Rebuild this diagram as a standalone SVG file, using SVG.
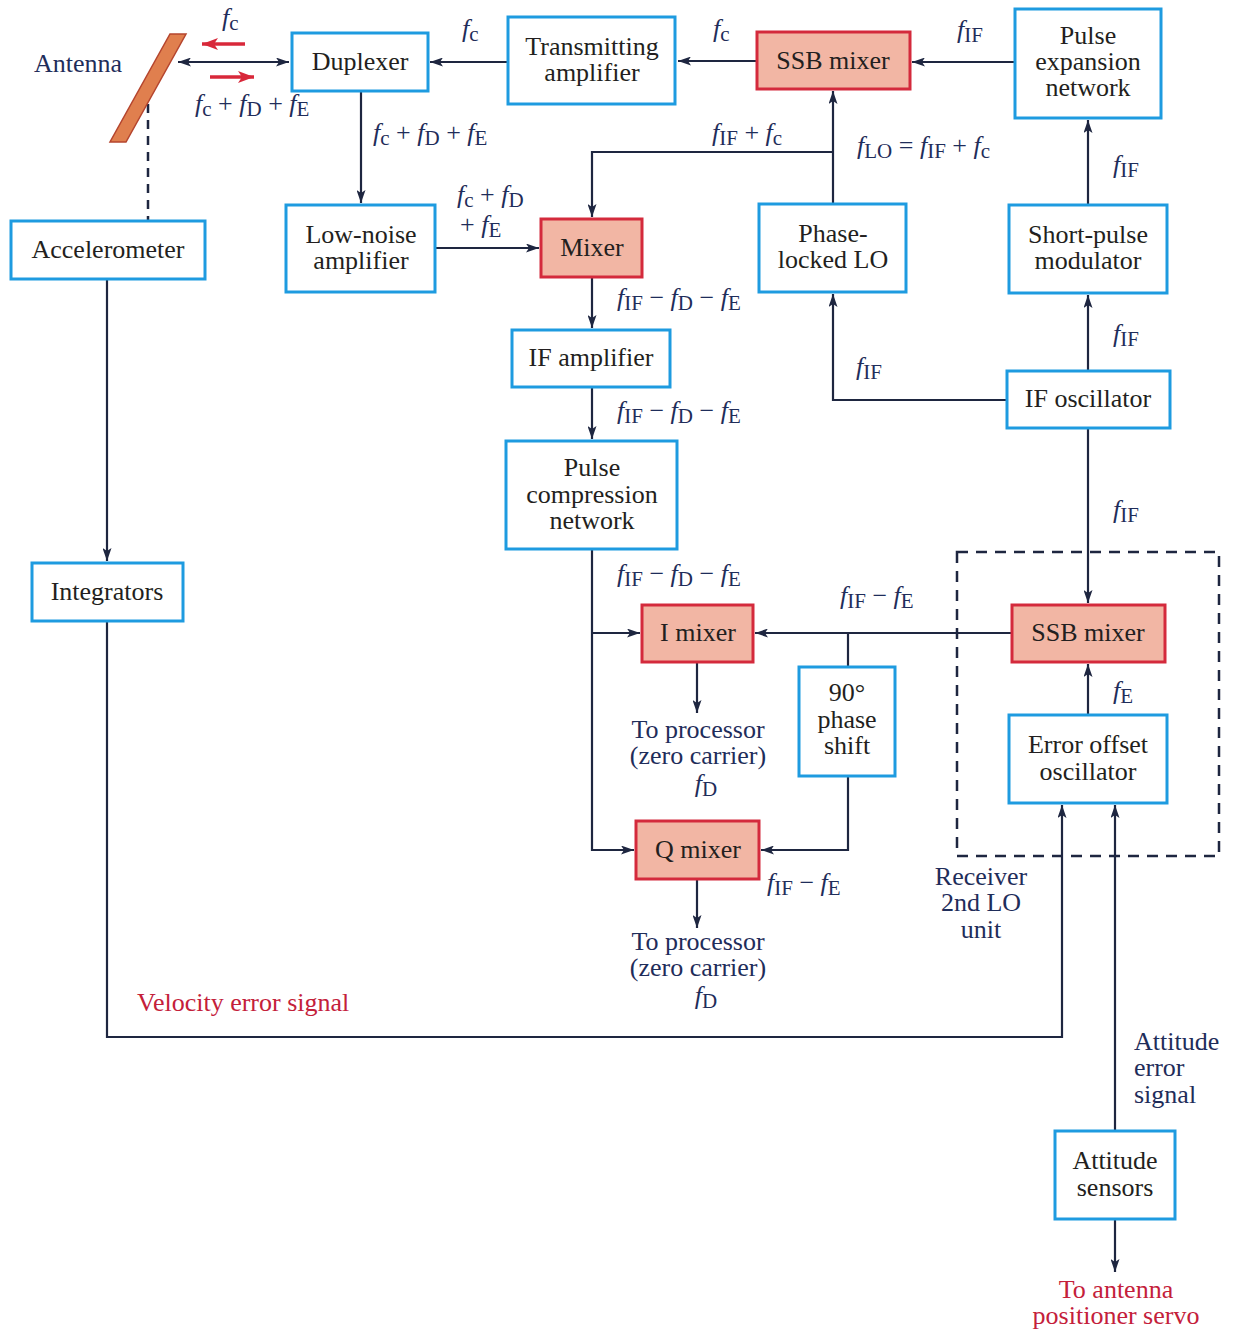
<svg xmlns="http://www.w3.org/2000/svg" width="1234" height="1333" viewBox="0 0 1234 1333">
<defs>
<style>
.b{fill:#fff;stroke:#1e9be0;stroke-width:3}
.m{fill:#f2b6a4;stroke:#d42a3c;stroke-width:3}
.c{fill:none;stroke:#1e2640;stroke-width:2.2}
.t{font-family:"Liberation Serif",serif;font-size:26px;fill:#231f20;text-anchor:middle}
.l{font-family:"Liberation Serif",serif;font-size:26px;fill:#1f2d5a}
.lc{text-anchor:middle}
.r{fill:#c4203a}
.i{font-style:italic}
.s{font-size:21px}
</style>
<marker id="a" markerWidth="13" markerHeight="9" refX="13" refY="4.5" orient="auto-start-reverse" markerUnits="userSpaceOnUse"><path d="M0,0 L13,4.5 L0,9 L3,4.5 z" fill="#1e2640"/></marker>
<marker id="ra" markerWidth="16" markerHeight="12" refX="16" refY="6" orient="auto" markerUnits="userSpaceOnUse"><path d="M0,0 L16,6 L0,12 L4,6 z" fill="#d8283a"/></marker>
</defs>
<rect width="1234" height="1333" fill="#fff"/>

<g id="connectors">
<line class="c" x1="178" y1="62" x2="289" y2="62" marker-start="url(#a)" marker-end="url(#a)"/>
<line class="c" x1="508" y1="62" x2="430" y2="62" marker-end="url(#a)"/>
<line class="c" x1="757" y1="61" x2="678" y2="61" marker-end="url(#a)"/>
<line class="c" x1="1015" y1="62" x2="912" y2="62" marker-end="url(#a)"/>
<line class="c" x1="361" y1="91" x2="361" y2="203" marker-end="url(#a)"/>
<line class="c" x1="435" y1="248" x2="539" y2="248" marker-end="url(#a)"/>
<line class="c" x1="833" y1="204" x2="833" y2="91" marker-end="url(#a)"/>
<polyline class="c" points="833,152 592,152 592,217" marker-end="url(#a)"/>
<line class="c" x1="592" y1="277" x2="592" y2="328" marker-end="url(#a)"/>
<line class="c" x1="592" y1="387" x2="592" y2="439" marker-end="url(#a)"/>
<polyline class="c" points="592,549 592,850 634,850" marker-end="url(#a)"/>
<line class="c" x1="592" y1="633" x2="640" y2="633" marker-end="url(#a)"/>
<line class="c" x1="1012" y1="633" x2="755" y2="633" marker-end="url(#a)"/>
<line class="c" x1="848" y1="633" x2="848" y2="667"/>
<polyline class="c" points="848,776 848,850 761,850" marker-end="url(#a)"/>
<line class="c" x1="697" y1="662" x2="697" y2="713" marker-end="url(#a)"/>
<line class="c" x1="697" y1="879" x2="697" y2="928" marker-end="url(#a)"/>
<polyline class="c" points="1007,400 833,400 833,294" marker-end="url(#a)"/>
<line class="c" x1="1088" y1="371" x2="1088" y2="295" marker-end="url(#a)"/>
<line class="c" x1="1088" y1="205" x2="1088" y2="120" marker-end="url(#a)"/>
<line class="c" x1="1088" y1="428" x2="1088" y2="603" marker-end="url(#a)"/>
<line class="c" x1="1088" y1="715" x2="1088" y2="664" marker-end="url(#a)"/>
<line class="c" x1="107" y1="279" x2="107" y2="561" marker-end="url(#a)"/>
<polyline class="c" points="107,621 107,1037 1062,1037 1062,805" marker-end="url(#a)"/>
<line class="c" x1="1115" y1="1131" x2="1115" y2="805" marker-end="url(#a)"/>
<line class="c" x1="1115" y1="1219" x2="1115" y2="1272" marker-end="url(#a)"/>
<line x1="148" y1="104" x2="148" y2="220" stroke="#1e2640" stroke-width="2.5" stroke-dasharray="9,7"/>
<rect x="957" y="552" width="262" height="304" fill="none" stroke="#1e2640" stroke-width="2.5" stroke-dasharray="11,8"/>
<line x1="245" y1="44" x2="202" y2="44" stroke="#d8283a" stroke-width="3.5" marker-end="url(#ra)"/>
<line x1="210" y1="77" x2="254" y2="77" stroke="#d8283a" stroke-width="3.5" marker-end="url(#ra)"/>
</g>

<g id="antenna">
<polygon points="170,34 186,34 126,142 110,142" fill="#e07f4e" stroke="#b5452e" stroke-width="1.5"/>
<text class="l" x="34" y="72">Antenna</text>
</g>

<g id="duplexer"><rect class="b" x="292" y="33" width="136" height="58"/><text class="t" x="360" y="70">Duplexer</text></g>
<g id="transmitting-amplifier"><rect class="b" x="508" y="17" width="167" height="87"/><text class="t" x="592" y="55">Transmitting<tspan x="592" dy="26">amplifier</tspan></text></g>
<g id="ssb-mixer-top"><rect class="m" x="757" y="32" width="153" height="57"/><text class="t" x="833" y="69">SSB mixer</text></g>
<g id="pulse-expansion"><rect class="b" x="1015" y="9" width="146" height="109"/><text class="t" x="1088" y="44">Pulse<tspan x="1088" dy="26">expansion</tspan><tspan x="1088" dy="26">network</tspan></text></g>
<g id="accelerometer"><rect class="b" x="11" y="221" width="194" height="58"/><text class="t" x="108" y="258">Accelerometer</text></g>
<g id="low-noise-amplifier"><rect class="b" x="286" y="205" width="149" height="87"/><text class="t" x="361" y="243">Low-noise<tspan x="361" dy="26">amplifier</tspan></text></g>
<g id="mixer"><rect class="m" x="541" y="219" width="101" height="58"/><text class="t" x="592" y="256">Mixer</text></g>
<g id="phase-locked-lo"><rect class="b" x="759" y="204" width="147" height="88"/><text class="t" x="833" y="242">Phase-<tspan x="833" dy="26">locked LO</tspan></text></g>
<g id="short-pulse-modulator"><rect class="b" x="1009" y="205" width="158" height="88"/><text class="t" x="1088" y="243">Short-pulse<tspan x="1088" dy="26">modulator</tspan></text></g>
<g id="if-amplifier"><rect class="b" x="512" y="330" width="158" height="57"/><text class="t" x="591" y="366">IF amplifier</text></g>
<g id="if-oscillator"><rect class="b" x="1007" y="371" width="163" height="57"/><text class="t" x="1088" y="407">IF oscillator</text></g>
<g id="pulse-compression"><rect class="b" x="506" y="441" width="171" height="108"/><text class="t" x="592" y="476">Pulse<tspan x="592" dy="27">compression</tspan><tspan x="592" dy="26">network</tspan></text></g>
<g id="integrators"><rect class="b" x="32" y="563" width="151" height="58"/><text class="t" x="107" y="600">Integrators</text></g>
<g id="i-mixer"><rect class="m" x="642" y="605" width="111" height="57"/><text class="t" x="698" y="641">I mixer</text></g>
<g id="ssb-mixer-lower"><rect class="m" x="1012" y="605" width="153" height="57"/><text class="t" x="1088" y="641">SSB mixer</text></g>
<g id="phase-shift"><rect class="b" x="799" y="667" width="96" height="109"/><text class="t" x="847" y="701">90°<tspan x="847" dy="27">phase</tspan><tspan x="847" dy="26">shift</tspan></text></g>
<g id="error-offset-oscillator"><rect class="b" x="1009" y="715" width="158" height="88"/><text class="t" x="1088" y="753">Error offset<tspan x="1088" dy="27">oscillator</tspan></text></g>
<g id="q-mixer"><rect class="m" x="636" y="821" width="123" height="58"/><text class="t" x="698" y="858">Q mixer</text></g>
<g id="attitude-sensors"><rect class="b" x="1055" y="1131" width="120" height="88"/><text class="t" x="1115" y="1169">Attitude<tspan x="1115" dy="27">sensors</tspan></text></g>

<g id="labels">
<text class="l" x="222" y="26"><tspan class="i">f</tspan><tspan class="s" dy="4">c</tspan></text>
<text class="l" x="195" y="112"><tspan class="i">f</tspan><tspan class="s" dy="4">c</tspan><tspan dy="-4"> + </tspan><tspan class="i">f</tspan><tspan class="s" dy="4">D</tspan><tspan dy="-4"> + </tspan><tspan class="i">f</tspan><tspan class="s" dy="4">E</tspan></text>
<text class="l" x="462" y="37"><tspan class="i">f</tspan><tspan class="s" dy="4">c</tspan></text>
<text class="l" x="713" y="37"><tspan class="i">f</tspan><tspan class="s" dy="4">c</tspan></text>
<text class="l" x="957" y="38"><tspan class="i">f</tspan><tspan class="s" dy="4">IF</tspan></text>
<text class="l" x="373" y="141"><tspan class="i">f</tspan><tspan class="s" dy="4">c</tspan><tspan dy="-4"> + </tspan><tspan class="i">f</tspan><tspan class="s" dy="4">D</tspan><tspan dy="-4"> + </tspan><tspan class="i">f</tspan><tspan class="s" dy="4">E</tspan></text>
<text class="l" x="712" y="141"><tspan class="i">f</tspan><tspan class="s" dy="4">IF</tspan><tspan dy="-4"> + </tspan><tspan class="i">f</tspan><tspan class="s" dy="4">c</tspan></text>
<text class="l" x="857" y="154"><tspan class="i">f</tspan><tspan class="s" dy="4">LO</tspan><tspan dy="-4"> = </tspan><tspan class="i">f</tspan><tspan class="s" dy="4">IF</tspan><tspan dy="-4"> + </tspan><tspan class="i">f</tspan><tspan class="s" dy="4">c</tspan></text>
<text class="l" x="1113" y="173"><tspan class="i">f</tspan><tspan class="s" dy="4">IF</tspan></text>
<text class="l" x="457" y="203"><tspan class="i">f</tspan><tspan class="s" dy="4">c</tspan><tspan dy="-4"> + </tspan><tspan class="i">f</tspan><tspan class="s" dy="4">D</tspan><tspan x="460" dy="26">+ </tspan><tspan class="i">f</tspan><tspan class="s" dy="4">E</tspan></text>
<text class="l" x="617" y="306"><tspan class="i">f</tspan><tspan class="s" dy="4">IF</tspan><tspan dy="-4"> − </tspan><tspan class="i">f</tspan><tspan class="s" dy="4">D</tspan><tspan dy="-4"> − </tspan><tspan class="i">f</tspan><tspan class="s" dy="4">E</tspan></text>
<text class="l" x="1113" y="342"><tspan class="i">f</tspan><tspan class="s" dy="4">IF</tspan></text>
<text class="l" x="856" y="375"><tspan class="i">f</tspan><tspan class="s" dy="4">IF</tspan></text>
<text class="l" x="617" y="419"><tspan class="i">f</tspan><tspan class="s" dy="4">IF</tspan><tspan dy="-4"> − </tspan><tspan class="i">f</tspan><tspan class="s" dy="4">D</tspan><tspan dy="-4"> − </tspan><tspan class="i">f</tspan><tspan class="s" dy="4">E</tspan></text>
<text class="l" x="1113" y="518"><tspan class="i">f</tspan><tspan class="s" dy="4">IF</tspan></text>
<text class="l" x="617" y="582"><tspan class="i">f</tspan><tspan class="s" dy="4">IF</tspan><tspan dy="-4"> − </tspan><tspan class="i">f</tspan><tspan class="s" dy="4">D</tspan><tspan dy="-4"> − </tspan><tspan class="i">f</tspan><tspan class="s" dy="4">E</tspan></text>
<text class="l" x="840" y="604"><tspan class="i">f</tspan><tspan class="s" dy="4">IF</tspan><tspan dy="-4"> − </tspan><tspan class="i">f</tspan><tspan class="s" dy="4">E</tspan></text>
<text class="l" x="1113" y="699"><tspan class="i">f</tspan><tspan class="s" dy="4">E</tspan></text>
<text class="l lc" x="698" y="738">To processor<tspan x="698" dy="26">(zero carrier)</tspan></text>
<text class="l lc" x="706" y="792"><tspan class="i">f</tspan><tspan class="s" dy="4">D</tspan></text>
<text class="l" x="767" y="891"><tspan class="i">f</tspan><tspan class="s" dy="4">IF</tspan><tspan dy="-4"> − </tspan><tspan class="i">f</tspan><tspan class="s" dy="4">E</tspan></text>
<text class="l lc" x="981" y="885">Receiver<tspan x="981" dy="26">2nd LO</tspan><tspan x="981" dy="27">unit</tspan></text>
<text class="l lc" x="698" y="950">To processor<tspan x="698" dy="26">(zero carrier)</tspan></text>
<text class="l lc" x="706" y="1004"><tspan class="i">f</tspan><tspan class="s" dy="4">D</tspan></text>
<text class="l r" x="137" y="1011">Velocity error signal</text>
<text class="l" x="1134" y="1050">Attitude<tspan x="1134" dy="26">error</tspan><tspan x="1134" dy="27">signal</tspan></text>
<text class="l lc r" x="1116" y="1298">To antenna<tspan x="1116" dy="26">positioner servo</tspan></text>
</g>
</svg>
